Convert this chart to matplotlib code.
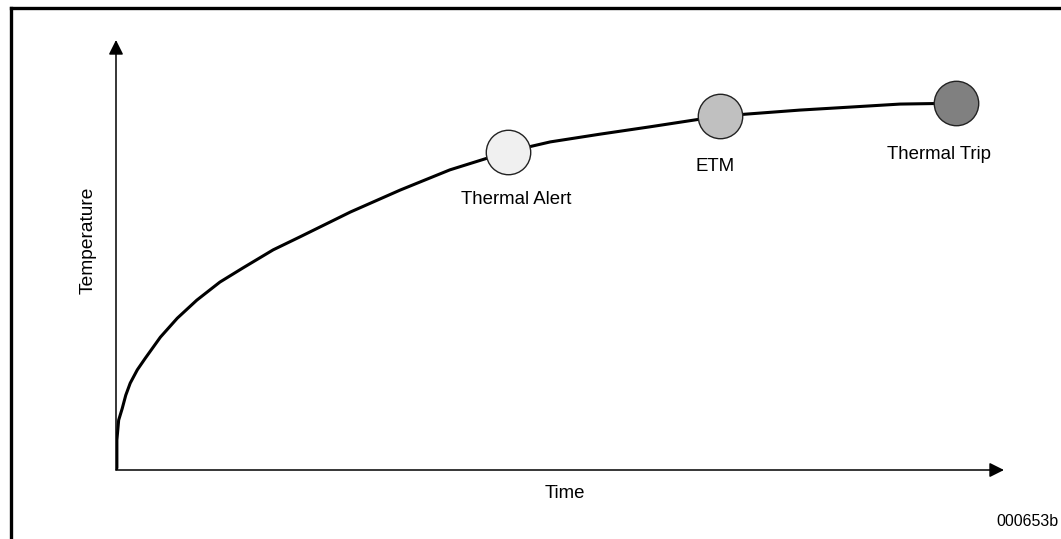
import matplotlib.pyplot as plt

# curve (time, temperature), arbitrary units 0-100
time = [0.0, 0.1, 0.1, 0.3, 0.7, 1.1, 1.6, 2.4, 3.3, 5.0, 6.9, 9.1, 11.7, 14.3, 17.7, 20.7,
        26.4, 32.0, 37.6, 44.1, 48.9, 54.5, 60.1, 68.0, 77.0, 82.7, 88.3, 94.6]
temp = [0.0, 0.5, 7.0, 11.6, 14.3, 17.4, 20.2, 23.3, 26.0, 30.9, 35.3, 39.5, 43.7, 47.0, 51.2, 54.2,
        60.0, 65.1, 69.8, 74.0, 76.3, 78.1, 79.8, 82.3, 83.7, 84.4, 85.1, 85.3]

event_names = ['Thermal Alert', 'ETM', 'Thermal Trip']
event_time = [44.1, 68.0, 94.6]
event_temp = [74.0, 82.3, 85.3]
event_colors = ['#f0f0f0', '#c0c0c0', '#808080']
label_offsets = [(9, -48), (-5, -50), (-17, -51)]  # pixels

plt.rcParams['font.family'] = ['Liberation Sans', 'DejaVu Sans']

fig = plt.figure(figsize=(10.61, 5.39), dpi=100)
W, H = 1061, 539
ax = fig.add_axes([116 / W, (H - 470) / H, 888 / W, 430 / H])
ax.set_xlim(0, 100)
ax.set_ylim(0, 100)
ax.axis('off')

# outer frame (top and left edges only visible)
fig.add_artist(plt.Line2D([11 / W, 1], [1 - 8 / H, 1 - 8 / H], color='black', lw=2.4))
fig.add_artist(plt.Line2D([11 / W, 11 / W], [0, 1 - 8 / H], color='black', lw=2.4))

# axes with arrow heads
arrow = dict(arrowstyle='-|>', lw=1.1, color='black', mutation_scale=22,
             shrinkA=0, shrinkB=0)
ax.annotate('', xy=(0, 1), xytext=(0, 0), xycoords='axes fraction', arrowprops=arrow)
ax.annotate('', xy=(1, 0), xytext=(0, 0), xycoords='axes fraction', arrowprops=arrow)

ax.plot(time, temp, color='black', lw=2.2, solid_capstyle='round',
        solid_joinstyle='round', zorder=2)

for name, t, y, c, off in zip(event_names, event_time, event_temp, event_colors, label_offsets):
    ax.plot(t, y, 'o', ms=32, mfc=c, mec='#222222', mew=1.0, zorder=3)
    ax.annotate(name, xy=(t, y), xytext=off, textcoords='offset pixels',
                ha='center', va='center', fontsize=13.4)

fig.text(88 / W, 1 - 240 / H, 'Temperature', rotation=90, ha='center', va='center', fontsize=13.8)
fig.text(565 / W, 1 - 493 / H, 'Time', ha='center', va='center', fontsize=13.4)
fig.text(1027 / W, 1 - 522 / H, '000653b', ha='center', va='center', fontsize=11.5)

fig.savefig('out.png', dpi=100)
